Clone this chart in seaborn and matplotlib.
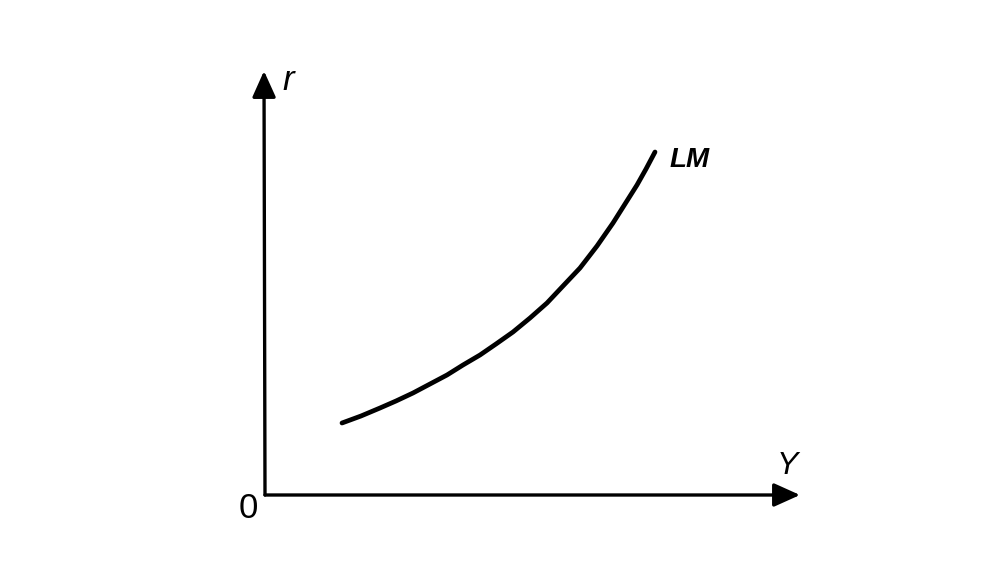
import matplotlib
matplotlib.use("Agg")
import matplotlib.pyplot as plt
import seaborn as sns
import pandas as pd

# LM curve points (income Y, interest rate r), origin at axis corner
Y_vals = [77, 96, 115, 131, 148, 165, 182, 198, 215, 231, 248, 265, 282, 298, 315, 332, 348, 360, 372, 381, 390]
r_vals = [72, 79, 87, 94, 102, 111, 120, 130, 140, 151, 163, 177, 192, 209, 227, 249, 272, 291, 310, 326, 343]
curve_label = "LM"
x_label = "Y"
y_label = "r"
origin_label = "0"

df = pd.DataFrame({"Y": Y_vals, "r": r_vals})

sns.set_theme(style="white")
plt.rcParams["font.family"] = ["Liberation Sans", "DejaVu Sans"]
plt.rcParams["text.color"] = "black"

fig = plt.figure(figsize=(10.05, 5.78), dpi=100)
ax = fig.add_axes([0, 0, 1, 1])
ax.set_xlim(-265, 740)
ax.set_ylim(-83, 495)
ax.axis("off")

sns.lineplot(data=df, x="Y", y="r", ax=ax, color="black", linewidth=3.4,
             solid_capstyle="round", legend=False)

# axes arrows
arrow_style = dict(arrowstyle="-|>,head_length=1.0,head_width=0.45",
                   mutation_scale=16, color="black", lw=2.4,
                   shrinkA=0, shrinkB=0)
ax.annotate("", xy=(-1, 424), xytext=(0, 0), arrowprops=arrow_style)
ax.annotate("", xy=(535, 0), xytext=(0, 0), arrowprops=arrow_style)

ax.text(17, 415, y_label, fontsize=25, fontstyle="italic", ha="left",
        va="center", color="black")
ax.text(405, 335, curve_label, fontsize=20, fontstyle="italic", fontweight="bold",
        ha="left", va="center", color="black")
ax.text(522, 29, x_label, fontsize=23, fontstyle="italic", ha="center",
        va="center", color="black")
ax.text(-17, -13, origin_label, fontsize=25, ha="center", va="center",
        color="black")

fig.savefig("out.png", dpi=100, facecolor="white")
